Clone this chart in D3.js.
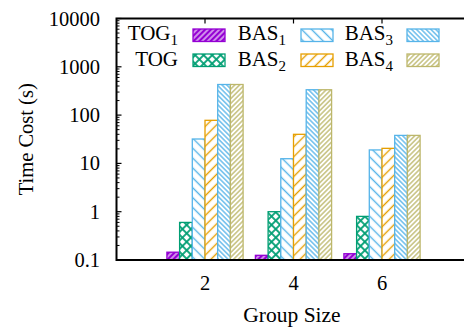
<!DOCTYPE html>
<meta charset="utf-8">
<body style="margin:0">
<div id="chart"></div>
</body>
<script src="https://cdn.jsdelivr.net/npm/d3@7"></script>
<script>

// Data
var groups = [2, 4, 6];
var seriesNames = ["TOG", "TOG", "BAS", "BAS", "BAS", "BAS"];
var seriesSubs = ["1", "", "1", "2", "3", "4"];
var tog1 = [0.145, 0.125, 0.135];
var tog = [0.6, 1.0, 0.8];
var bas1 = [32, 12.5, 19];
var bas2 = [78, 40, 20.5];
var bas3 = [430, 335, 38];
var bas4 = [430, 335, 38];
var yTicks = [0.1, 1, 10, 100, 1000, 10000];
var yTickLabels = ["0.1", "1", "10", "100", "1000", "10000"];

var seriesValues = [tog1, tog, bas1, bas2, bas3, bas4];
var colors = ["#9400D3", "#009E73", "#56B4E9", "#E69F00", "#56B4E9", "#BDB76B"];
// pattern: angle, spacing, line width, crossed?
var patterns = [
	{angle: 45, gap: 4, w: 2.9, cross: false},
	{angle: 45, gap: 6, w: 1.8, cross: true},
	{angle: -45, gap: 7, w: 1.4, cross: false},
	{angle: 45, gap: 7, w: 1.4, cross: false},
	{angle: -45, gap: 3.4, w: 1.3, cross: false},
	{angle: 45, gap: 3.4, w: 1.3, cross: false}
];

var width = 464,
	height = 333;
// plot frame (note: "top" is taken by window.top)
var plotLeft = 116.5, plotTop = 18.5, plotBottom = 260, plotRight = 470.5;
var font = "'Liberation Serif', 'DejaVu Serif', serif";

var svg = d3.select("#chart").append("svg")
	.attr("width", width)
	.attr("height", height)
	.style("font-family", font);

var x = d3.scaleLinear().domain([0, 8]).range([plotLeft, plotRight]);
var y = d3.scaleLog().domain([0.1, 10000]).range([plotBottom, plotTop]);
var barW = 12.7;

// Hatch patterns
var defs = svg.append("defs");
patterns.forEach(function (p, i) {
	var pat = defs.append("pattern")
		.attr("id", "pat" + i)
		.attr("patternUnits", "userSpaceOnUse")
		.attr("width", p.gap)
		.attr("height", p.gap)
		.attr("patternTransform", "rotate(" + p.angle + ")");
	pat.append("rect").attr("width", p.gap).attr("height", p.gap).attr("fill", "white");
	pat.append("line")
		.attr("x1", p.gap / 2).attr("x2", p.gap / 2)
		.attr("y1", -1).attr("y2", p.gap + 1)
		.attr("stroke", colors[i]).attr("stroke-width", p.w);
	if (p.cross) {
		pat.append("line")
			.attr("y1", p.gap / 2).attr("y2", p.gap / 2)
			.attr("x1", -1).attr("x2", p.gap + 1)
			.attr("stroke", colors[i]).attr("stroke-width", p.w);
	}
});

// Bars
seriesValues.forEach(function (vals, s) {
	svg.append("g").selectAll("rect")
		.data(vals)
		.enter().append("rect")
		.attr("x", function (d, i) { return x(groups[i]) + (s - 3) * barW; })
		.attr("width", barW)
		.attr("y", function (d) { return y(d); })
		.attr("height", function (d) { return plotBottom - y(d); })
		.attr("fill", "url(#pat" + s + ")")
		.attr("stroke", colors[s])
		.attr("stroke-width", 1.3);
});

// Minor ticks on the log axis
var minor = [];
for (var e = -1; e < 4; e++) {
	for (var m = 2; m < 10; m++) minor.push(m * Math.pow(10, e));
}
svg.append("g").selectAll("line")
	.data(minor)
	.enter().append("line")
	.attr("x1", plotLeft).attr("x2", plotLeft + 3)
	.attr("y1", function (d) { return y(d); })
	.attr("y2", function (d) { return y(d); })
	.attr("stroke", "black").attr("stroke-width", 1);

// Major y ticks and labels
svg.append("g").selectAll("line")
	.data(yTicks)
	.enter().append("line")
	.attr("x1", plotLeft).attr("x2", plotLeft + 5)
	.attr("y1", function (d) { return y(d); })
	.attr("y2", function (d) { return y(d); })
	.attr("stroke", "black").attr("stroke-width", 1.2);
svg.append("g").selectAll("text")
	.data(yTicks)
	.enter().append("text")
	.attr("x", 100)
	.attr("y", function (d) { return y(d) + 7; })
	.attr("text-anchor", "end")
	.attr("font-size", 20.5)
	.text(function (d, i) { return yTickLabels[i]; });

// x ticks at the top and labels
svg.append("g").selectAll("line")
	.data(groups)
	.enter().append("line")
	.attr("x1", function (d) { return x(d); })
	.attr("x2", function (d) { return x(d); })
	.attr("y1", plotTop).attr("y2", plotTop + 5)
	.attr("stroke", "black").attr("stroke-width", 1.2);
svg.append("g").selectAll("text")
	.data(groups)
	.enter().append("text")
	.attr("x", function (d) { return x(d); })
	.attr("y", 290)
	.attr("text-anchor", "middle")
	.attr("font-size", 20.5)
	.text(function (d) { return d; });

// Frame
svg.append("path")
	.attr("d", "M" + plotRight + "," + plotTop + "H" + plotLeft + "V" + plotBottom + "H" + plotRight)
	.attr("fill", "none")
	.attr("stroke", "black")
	.attr("stroke-width", 2);

// Axis titles
svg.append("text")
	.attr("x", 292).attr("y", 321.5)
	.attr("text-anchor", "middle")
	.attr("font-size", 21.5)
	.text("Group Size");
svg.append("text")
	.attr("transform", "translate(33," + ((plotTop + plotBottom) / 2) + ") rotate(-90)")
	.attr("text-anchor", "middle")
	.attr("font-size", 20.5)
	.text("Time Cost (s)");

// Legend: 3 columns x 2 rows, label right-aligned then swatch
var colTextX = [178, 286, 393];
var colSwX = [193, 301, 407];
var rowY = [39.5, 66];
var rowSwY = [29, 54];
seriesNames.forEach(function (name, i) {
	var col = Math.floor(i / 2), row = i % 2;
	var t = svg.append("text")
		.attr("x", colTextX[col])
		.attr("y", rowY[row])
		.attr("text-anchor", "end")
		.attr("font-size", 21);
	t.append("tspan").text(name);
	if (seriesSubs[i]) {
		t.append("tspan").attr("font-size", 15).attr("dy", 5).text(seriesSubs[i]);
	}
	svg.append("rect")
		.attr("x", colSwX[col])
		.attr("y", rowSwY[row])
		.attr("width", 32)
		.attr("height", 12.5)
		.attr("fill", "url(#pat" + i + ")")
		.attr("stroke", colors[i])
		.attr("stroke-width", 1.3);
});
</script>
